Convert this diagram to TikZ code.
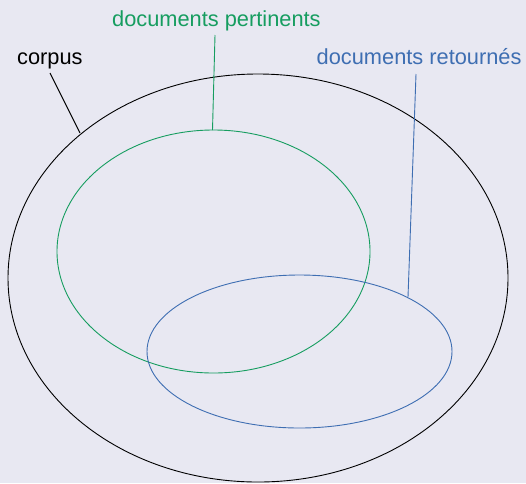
\documentclass[tikz,border=0pt]{standalone}
\usepackage{fontspec}
\setmainfont{Liberation Sans}
\definecolor{bg}{RGB}{232,232,242}
\definecolor{pgreen}{RGB}{22,157,96}
\definecolor{pblue}{RGB}{62,110,178}
\tikzset{
  lbl/.style={anchor=base west, inner sep=0pt, font=\fontsize{21.8}{24}\selectfont},
  ell/.style={draw, ellipse, line width=0.9pt, inner sep=0pt, fill=none},
}
\usetikzlibrary{shapes.geometric}
\begin{document}
\begin{tikzpicture}[x=1pt,y=-1pt]
\fill[bg] (0,0) rectangle (526,483);
\useasboundingbox (0,0) rectangle (526,483);
% ellipses
\node[ell, black, minimum width=500pt, minimum height=408pt] (corpusE) at (258,278) {};
\node[ell, pgreen, minimum width=313pt, minimum height=243pt] (pertE) at (213.5,251.5) {};
\node[ell, pblue, minimum width=305pt, minimum height=153pt] (retE) at (299.5,351.5) {};
% labels
\node[lbl, black] (corpusL) at (17,64) {corpus};
\node[lbl, text=pgreen] (pertL) at (112,26) {documents pertinents};
\node[lbl, text=pblue] (retL) at (316.5,64) {documents retournés};
% leader lines
\coordinate (c1) at (50,73);
\coordinate (c2) at (80,133);
\coordinate (g1) at (215,35);
\coordinate (g2) at (212.5,130);
\coordinate (b1) at (416,74);
\coordinate (b2) at (408,297);
\draw[black, line width=0.9pt] (c1) -- (c2);
\draw[pgreen, line width=0.9pt] (g1) -- (g2);
\draw[pblue, line width=0.9pt] (b1) -- (b2);
\end{tikzpicture}
\end{document}
